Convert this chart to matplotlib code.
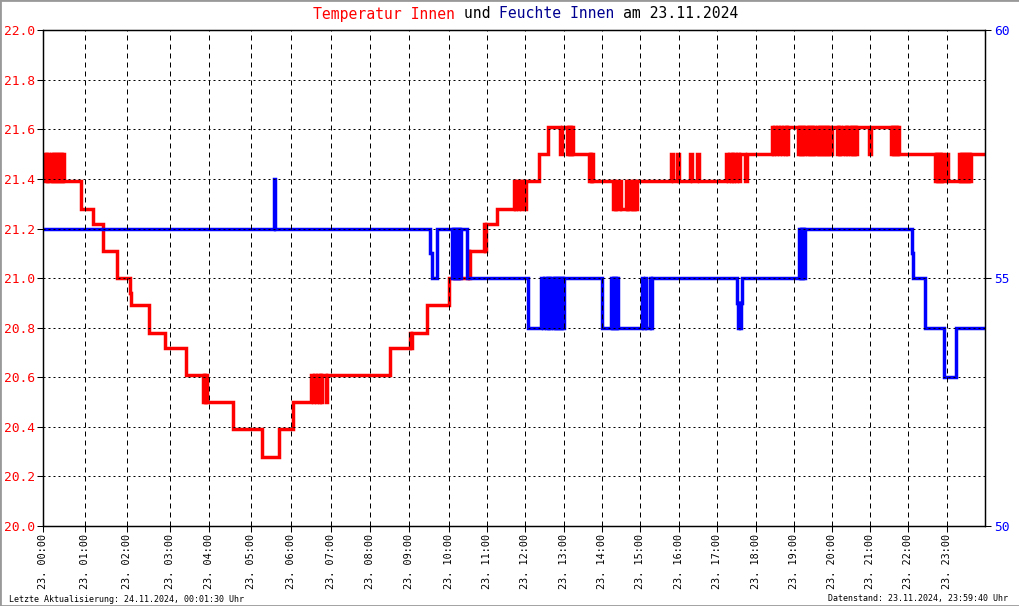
import matplotlib
matplotlib.use('Agg')
import matplotlib.pyplot as plt
from matplotlib.patches import Rectangle

# x axis is the sample number of the logger, the hour marks are not evenly spaced
hour_idx = [0, 42, 84, 127, 166, 208, 248, 288, 327, 366, 406, 444,
            482, 521, 559, 597, 636, 674, 713, 751, 789, 827, 865, 904]
hour_lbl = ['23. %02d:00' % h for h in range(24)]
n_samples = 942

temp_ticks = [20.0, 20.2, 20.4, 20.6, 20.8, 21.0, 21.2, 21.4, 21.6, 21.8, 22.0]
hum_ticks = [50, 55, 60]
hum_grid = [50, 51, 52, 53, 54, 55, 56, 57, 58, 59, 60]

# (sample, value) where the temperature changes
temp_steps = [
    (0, 21.5), (2, 21.39), (3, 21.5), (4, 21.39), (5, 21.5), (6, 21.39), (8, 21.5),
    (9, 21.39), (10, 21.5), (11, 21.39), (12, 21.5), (13, 21.39), (14, 21.5),
    (15, 21.39), (16, 21.5), (17, 21.39), (18, 21.5), (19, 21.39), (20, 21.5),
    (21, 21.39), (38, 21.28), (50, 21.22), (60, 21.11), (74, 21.0), (87, 20.94),
    (88, 20.89), (106, 20.78), (122, 20.72), (143, 20.61), (160, 20.5), (161, 20.61),
    (162, 20.5), (163, 20.61), (164, 20.5), (190, 20.39), (219, 20.28), (236, 20.39),
    (250, 20.5), (268, 20.61), (270, 20.5), (271, 20.61), (273, 20.5), (274, 20.61),
    (276, 20.5), (277, 20.61), (278, 20.5), (279, 20.61), (283, 20.5), (284, 20.61),
    (347, 20.72), (367, 20.78), (368, 20.72), (369, 20.78), (384, 20.89), (406, 21.0),
    (425, 21.11), (426, 21.0), (427, 21.11), (441, 21.22), (442, 21.11), (443, 21.22),
    (454, 21.28), (471, 21.39), (472, 21.28), (473, 21.39), (475, 21.28), (476, 21.39),
    (478, 21.28), (479, 21.39), (482, 21.28), (483, 21.39), (496, 21.5), (505, 21.61),
    (517, 21.5), (519, 21.61), (524, 21.5), (525, 21.61), (526, 21.5), (527, 21.61),
    (528, 21.5), (529, 21.61), (530, 21.5), (546, 21.39), (547, 21.5), (548, 21.39),
    (549, 21.5), (550, 21.39), (570, 21.28), (571, 21.39), (572, 21.28), (573, 21.39),
    (574, 21.28), (577, 21.39), (578, 21.28), (583, 21.39), (584, 21.28), (585, 21.39),
    (586, 21.28), (588, 21.39), (589, 21.28), (590, 21.39), (591, 21.28), (592, 21.39),
    (593, 21.28), (594, 21.39), (628, 21.5), (630, 21.39), (634, 21.5), (636, 21.39),
    (647, 21.5), (649, 21.39), (654, 21.5), (656, 21.39), (683, 21.5), (685, 21.39),
    (686, 21.5), (688, 21.39), (689, 21.5), (690, 21.39), (691, 21.5), (693, 21.39),
    (694, 21.5), (696, 21.39), (697, 21.5), (702, 21.39), (704, 21.5), (729, 21.61),
    (730, 21.5), (731, 21.61), (733, 21.5), (734, 21.61), (736, 21.5), (737, 21.61),
    (739, 21.5), (740, 21.61), (742, 21.5), (743, 21.61), (744, 21.5), (745, 21.61),
    (755, 21.5), (756, 21.61), (757, 21.5), (758, 21.61), (759, 21.5), (760, 21.61),
    (761, 21.5), (762, 21.61), (764, 21.5), (765, 21.61), (766, 21.5), (767, 21.61),
    (768, 21.5), (769, 21.61), (770, 21.5), (771, 21.61), (772, 21.5), (774, 21.61),
    (775, 21.5), (776, 21.61), (777, 21.5), (778, 21.61), (779, 21.5), (780, 21.61),
    (781, 21.5), (782, 21.61), (783, 21.5), (784, 21.61), (785, 21.5), (786, 21.61),
    (787, 21.5), (789, 21.61), (794, 21.5), (795, 21.61), (796, 21.5), (797, 21.61),
    (798, 21.5), (800, 21.61), (802, 21.5), (803, 21.61), (804, 21.5), (805, 21.61),
    (807, 21.5), (808, 21.61), (809, 21.5), (810, 21.61), (811, 21.5), (812, 21.61),
    (813, 21.5), (814, 21.61), (826, 21.5), (828, 21.61), (848, 21.5), (849, 21.61),
    (850, 21.5), (851, 21.61), (852, 21.5), (853, 21.61), (854, 21.5), (855, 21.61),
    (856, 21.5), (892, 21.39), (893, 21.5), (894, 21.39), (895, 21.5), (896, 21.39),
    (897, 21.5), (898, 21.39), (899, 21.5), (900, 21.39), (903, 21.5), (905, 21.39),
    (916, 21.5), (917, 21.39), (918, 21.5), (919, 21.39), (920, 21.5), (921, 21.39),
    (922, 21.5), (923, 21.39), (924, 21.5), (925, 21.39), (926, 21.5), (927, 21.39),
    (928, 21.5),
]

# (sample, value) where the humidity changes
hum_steps = [
    (0, 56), (231, 57), (232, 56), (387, 55.5), (389, 55), (394, 56), (409, 55),
    (410, 56), (411, 55), (412, 56), (413, 55), (414, 56), (415, 55), (416, 56),
    (417, 55), (418, 56), (424, 55), (485, 54), (498, 55), (500, 54), (501, 55),
    (503, 54), (504, 55), (505, 54), (506, 55), (507, 54), (508, 55), (510, 54),
    (511, 55), (512, 54), (513, 55), (514, 54), (515, 55), (516, 54), (517, 55),
    (518, 54), (519, 55), (520, 54), (521, 55), (559, 54), (568, 55), (569, 54),
    (570, 55), (571, 54), (572, 55), (573, 54), (574, 55), (575, 54), (599, 55),
    (600, 54), (602, 55), (603, 54), (607, 55), (608, 54), (609, 55), (694, 54.5),
    (695, 54), (696, 54.5), (697, 54), (698, 54.5), (699, 55), (756, 56), (757, 55),
    (758, 56), (759, 55), (760, 56), (761, 55), (762, 56), (869, 55.5), (870, 55),
    (882, 54), (901, 53), (913, 54),
]

RED = '#ff0000'
BLUE = '#0000ff'
MONO = 'DejaVu Sans Mono'

fig = plt.figure(figsize=(10.2, 6.06), dpi=100)
fig.patch.set_facecolor('white')
ax = fig.add_axes([43.3 / 1020, 80 / 606, 942 / 1020, 495.7 / 606])
ax2 = ax.twinx()

tx = [s[0] for s in temp_steps] + [n_samples]
tv = [s[1] for s in temp_steps] + [temp_steps[-1][1]]
hx = [s[0] for s in hum_steps] + [n_samples]
hv = [s[1] for s in hum_steps] + [hum_steps[-1][1]]

ax.plot(tx, tv, drawstyle='steps-post', color=RED, lw=2.5, solid_joinstyle='miter')
ax2.plot(hx, hv, drawstyle='steps-post', color=BLUE, lw=2.5, solid_joinstyle='miter')

ax.set_xlim(0, n_samples)
ax.set_ylim(20.0, 22.0)
ax2.set_ylim(50, 60)

# grid on top of the curves
for x in hour_idx:
    ax2.axvline(x, color='black', lw=0.72, ls=(0, (5, 4)), zorder=5)
for y in hum_grid:
    ax2.axhline(y, color='black', lw=0.72, ls=(0, (2, 3)), zorder=5)

ax.set_xticks(hour_idx)
ax.set_xticklabels(hour_lbl, rotation=90, family=MONO, fontsize=7.3)
ax.set_yticks(temp_ticks)
ax.set_yticklabels(['%.1f' % t for t in temp_ticks], family=MONO, fontsize=9.3, color=RED)
ax2.set_yticks(hum_ticks)
ax2.set_yticklabels([str(h) for h in hum_ticks], family=MONO, fontsize=9.3, color=BLUE)

ax.tick_params(axis='x', length=4, width=0.75, pad=1.5, direction='out')
ax.tick_params(axis='y', length=4, width=0.75, pad=2, direction='out')
ax2.tick_params(axis='y', length=4, width=0.75, pad=2, direction='out')
for a in (ax, ax2):
    for sp in a.spines.values():
        sp.set_linewidth(0.9)
        sp.set_color('black')

# title with coloured words (monospace -> fixed advance per character)
parts = [('Temperatur Innen ', RED), ('und ', 'black'),
         ('Feuchte Innen ', '#000090'), ('am 23.11.2024', 'black')]
fs_title = 10.6
adv = 0.602 * fs_title * 100 / 72
x0 = 313
for txt, col in parts:
    fig.text(x0 / 1020, 1 - 18.5 / 606, txt, color=col, family=MONO,
             fontsize=fs_title, va='baseline', ha='left')
    x0 += len(txt) * adv

fig.text(9 / 1020, 1 - 601.5 / 606, 'Letzte Aktualisierung: 24.11.2024, 00:01:30 Uhr',
         family=MONO, fontsize=6, va='baseline', ha='left')
fig.text(1008 / 1020, 1 - 601.5 / 606, 'Datenstand: 23.11.2024, 23:59:40 Uhr',
         family=MONO, fontsize=6, va='baseline', ha='right')

fig.add_artist(Rectangle((0, 0), 1, 1, transform=fig.transFigure, fill=False,
                         edgecolor='#999999', lw=2))

fig.savefig('out.png', dpi=100)
